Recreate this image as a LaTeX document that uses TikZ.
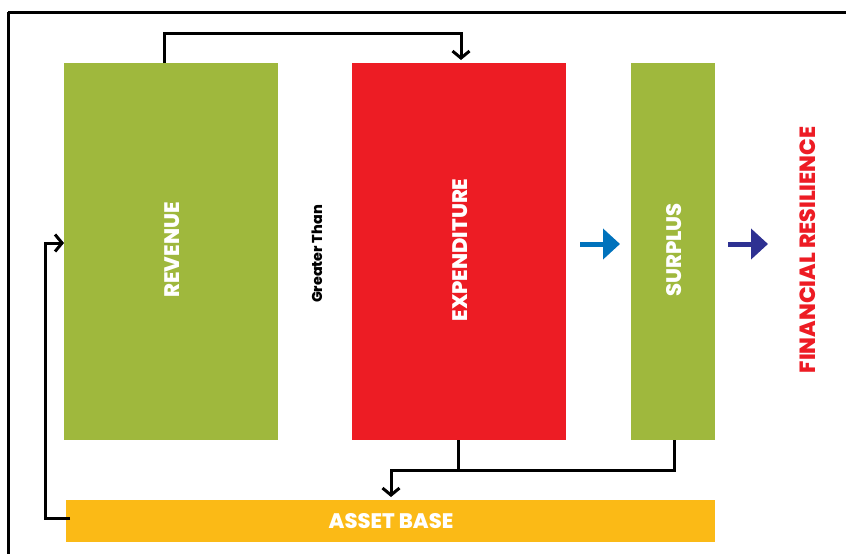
\documentclass[tikz,border=0pt]{standalone}
\usepackage{fontspec}
\setmainfont{Poppins}[BoldFont={Poppins ExtraBold}]
\usetikzlibrary{arrows.meta}
\definecolor{grn}{HTML}{9FB83D}
\definecolor{rd}{HTML}{ED1C24}
\definecolor{org}{HTML}{FBBA16}
\definecolor{blu}{HTML}{0072BC}
\definecolor{dblu}{HTML}{2E3192}
\begin{document}
\begin{tikzpicture}[x=1pt,y=-1pt,
  lbl/.style={font=\bfseries\fontsize{21}{21}\selectfont,text=white,rotate=90},
  conn/.style={line width=3pt,draw=black},
  tipc/.style={-{Straight Barb[length=7pt,width=17pt,line width=3pt]}},
  fat/.style={line width=5pt,-{Triangle[length=17pt,width=30pt]}}]
\useasboundingbox (0,0) rectangle (846,554);
\draw[line width=3pt] (8,12) -- (870,12);
\draw[line width=3pt] (8,12) -- (8,580);
\fill[grn] (64,63) rectangle (278,440);
\node[lbl] (rev) at (172,250) {REVENUE};
\coordinate (revtop) at (164,63);
\coordinate (revleft) at (64,243);
\fill[rd] (352,63) rectangle (566,440);
\node[lbl] (exp) at (460,250) {EXPENDITURE};
\coordinate (exptop) at (461,60);
\coordinate (expbot) at (458,440);
\fill[grn] (631,63) rectangle (715,440);
\node[lbl] (sur) at (674,250) {SURPLUS};
\coordinate (surbot) at (674,440);
\fill[org] (66,500) rectangle (715,542);
\node[font=\bfseries\fontsize{21}{21}\selectfont,text=white] (ab) at (391,521) {ASSET BASE};
\coordinate (abtop) at (391,497);
\coordinate (ableft) at (70,518);
\node[font=\bfseries\fontsize{14.3}{14.3}\selectfont,rotate=90] (gt) at (317,254) {Greater Than};
\node[font=\bfseries\fontsize{22}{22}\selectfont,text=rd,rotate=90] (fr) at (808,250) {FINANCIAL RESILIENCE};
\coordinate (a1s) at (580,244); \coordinate (a1e) at (620,244);
\coordinate (a2s) at (728,244); \coordinate (a2e) at (768,244);
\draw[fat,blu] (a1s) -- (a1e);
\draw[fat,dblu] (a2s) -- (a2e);
\draw[conn,tipc] (revtop) |- (300,33) -| (exptop);
\draw[conn,tipc] (ableft) -- (45,518) |- (revleft);
\draw[conn] (surbot) |- (458,470);
\draw[conn,tipc] (expbot) |- (391,470) -- (abtop);
\end{tikzpicture}
\end{document}
